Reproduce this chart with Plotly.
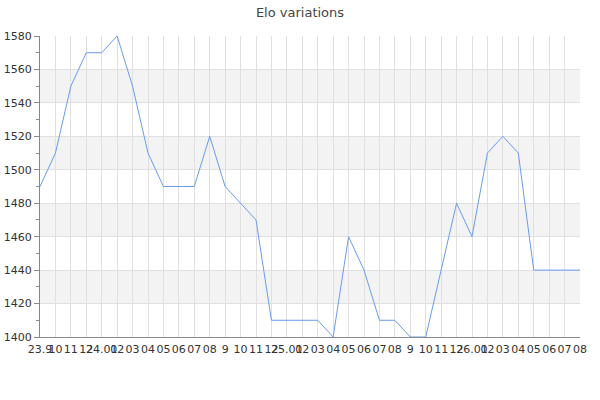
import plotly.graph_objects as go

tick_labels = ["23.9", "10", "11", "12",
               "24.01", "02", "03", "04", "05", "06", "07", "08", "9", "10", "11", "12",
               "25.01", "02", "03", "04", "05", "06", "07", "08", "9", "10", "11", "12",
               "26.01", "02", "03", "04", "05", "06", "07", "08"]
elo = [1490, 1510, 1550, 1570, 1570, 1580, 1550, 1510, 1490, 1490, 1490, 1520,
       1490, 1480, 1470, 1410, 1410, 1410, 1410, 1400, 1460, 1440, 1410, 1410,
       1400, 1400, 1440, 1480, 1460, 1510, 1520, 1510, 1440, 1440, 1440, 1440]
y_min, y_max, y_step = 1400, 1580, 20

x = list(range(len(elo)))

fig = go.Figure()
fig.add_trace(go.Scatter(x=x, y=elo, mode="lines",
                         line=dict(color="#6a9bef", width=1),
                         hoverinfo="x+y", showlegend=False))

# alternating background bands
shapes = []
band_starts = list(range(y_min, y_max, y_step))
for i, b in enumerate(band_starts):
    if i % 2 == 1:
        shapes.append(dict(type="rect", xref="paper", yref="y", x0=0, x1=1,
                           y0=b, y1=b + y_step, fillcolor="#f3f3f3",
                           line=dict(width=0), layer="below"))

fig.update_layout(
    width=600, height=400,
    margin=dict(l=40, r=20, t=36, b=63, autoexpand=False),
    paper_bgcolor="white", plot_bgcolor="white",
    title=dict(text="Elo variations", x=0.5, xanchor="center", y=0.97, yanchor="middle",
               font=dict(family="DejaVu Sans", size=13, color="#444")),
    font=dict(family="DejaVu Sans", size=11, color="#333"),
    shapes=shapes,
    xaxis=dict(range=[0, len(elo) - 1], tickmode="array", tickvals=x, ticktext=tick_labels,
               tickangle=0, showgrid=True, gridcolor="#e0e0e0", gridwidth=1,
               showline=True, linecolor="#888", linewidth=1, ticks="", zeroline=False,
               automargin=False, ticklabelstandoff=2,
               tickfont=dict(family="DejaVu Sans", size=11, color="#333")),
    yaxis=dict(range=[y_min, y_max], dtick=y_step, tick0=y_min, showgrid=True,
               gridcolor="#e0e0e0", gridwidth=1, showline=True, linecolor="#888",
               linewidth=1, ticks="outside", ticklen=5, tickcolor="#888", zeroline=False,
               automargin=False,
               minor=dict(dtick=y_step / 2, ticks="outside", ticklen=3, tickcolor="#888",
                          showgrid=False),
               tickfont=dict(family="DejaVu Sans", size=11, color="#333")),
)

fig.write_html("out.html", config={"displayModeBar": False},
               post_script="document.body.style.margin='0';")
